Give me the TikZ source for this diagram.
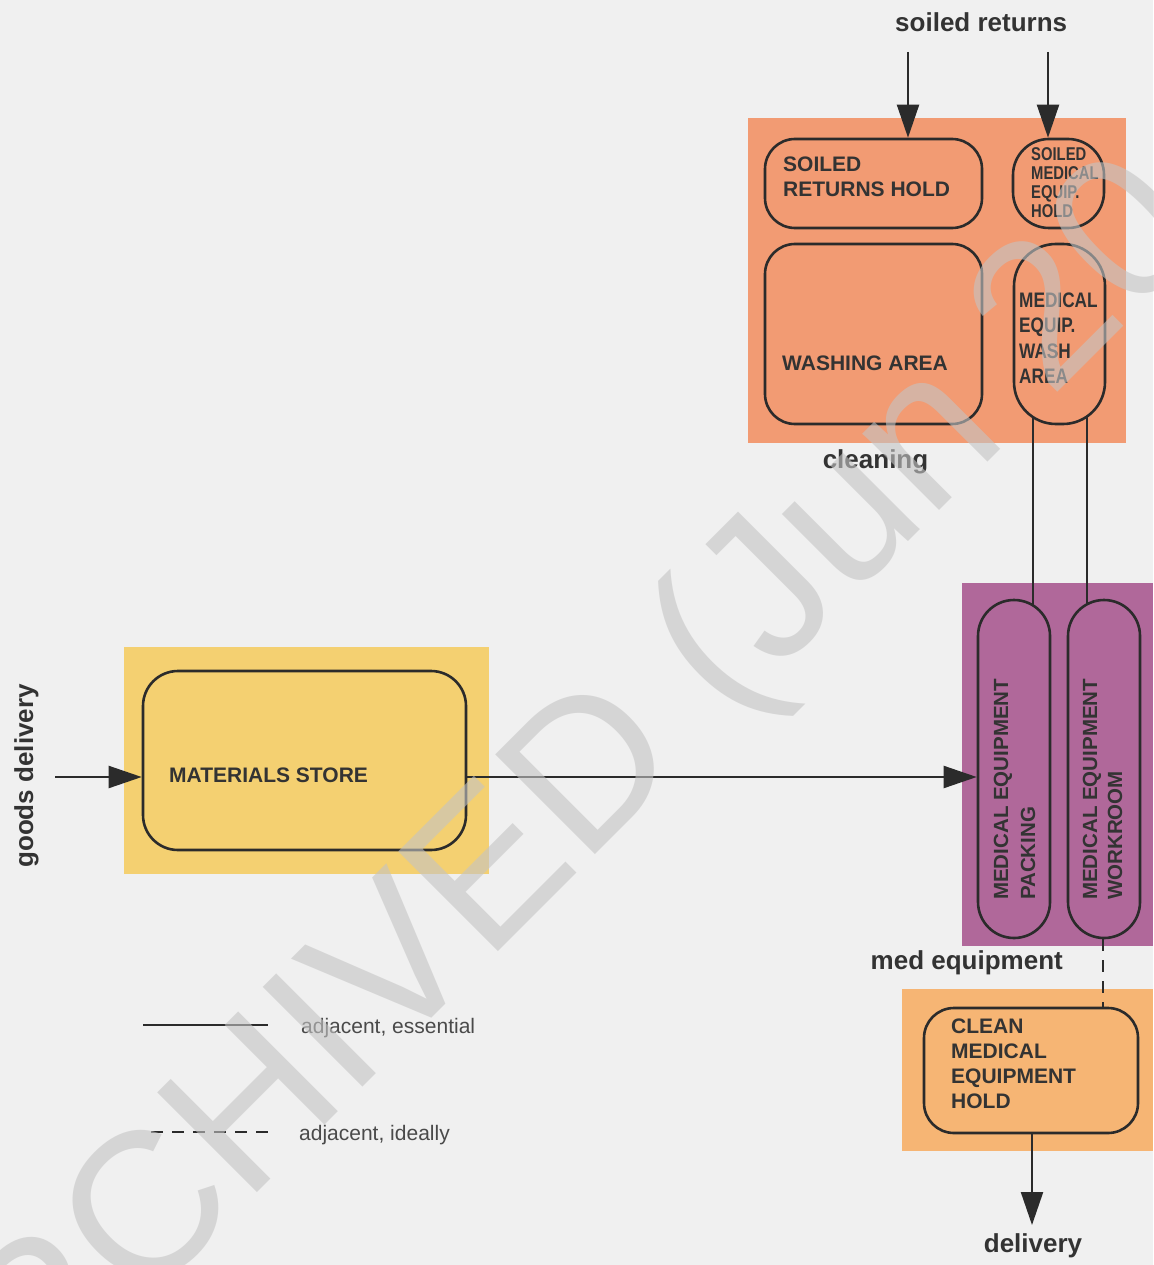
\documentclass[tikz,border=0pt]{standalone}
\usepackage{fontspec}
\setmainfont{Liberation Sans}
\usepackage{graphicx}
\usetikzlibrary{arrows.meta}

\definecolor{paper}{HTML}{F0F0F0}
\definecolor{cleanbg}{HTML}{F29B73}
\definecolor{medbg}{HTML}{B0689A}
\definecolor{storebg}{HTML}{F4D071}
\definecolor{holdbg}{HTML}{F6B574}
\definecolor{linec}{HTML}{2B2B2B}
\definecolor{txtc}{HTML}{333333}
\definecolor{keytxt}{HTML}{4A4A4A}
\definecolor{wmark}{HTML}{C4C4C4}

\pgfdeclarelayer{under}
\pgfsetlayers{under,main}

\begin{document}
\begin{tikzpicture}[x=1pt,y=-1pt,
  room/.style={draw=linec, line width=2.6pt, rectangle, inner sep=0pt, rounded corners=#1},
  room/.default=30pt,
  link/.style={draw=linec, line width=2.2pt},
  flow/.style={link, -{Triangle[length=33pt,width=22pt]}},
  ideal/.style={link, dash pattern=on 12pt off 9pt},
  lab/.style={text=txtc, inner sep=0pt, anchor=base west, font=\bfseries\fontsize{21}{25}\selectfont},
  labs/.style={text=txtc, inner sep=0pt, anchor=base west, font=\bfseries\fontsize{18.5}{20}\selectfont},
  vlab/.style={text=txtc, inner sep=0pt, anchor=base west, rotate=90, font=\bfseries\fontsize{20.5}{25}\selectfont},
  zone/.style={text=txtc, inner sep=0pt, font=\bfseries\fontsize{26}{30}\selectfont},
  keylab/.style={text=keytxt, inner sep=0pt, anchor=base west, font=\fontsize{21}{25}\selectfont}
]
\useasboundingbox (0,0) rectangle (1153,1265);

% room outlines
\node[room, fill=cleanbg, minimum width=217pt, minimum height=89pt]  (srh)  at (873.5,183.5) {};
\node[room=36pt, fill=cleanbg, minimum width=91pt, minimum height=89pt] (smeh) at (1058.5,183.5) {};
\node[room, fill=cleanbg, minimum width=217pt, minimum height=180pt] (wash) at (873.5,334) {};
\node[room=42pt, fill=cleanbg, minimum width=91pt, minimum height=180pt] (mewa) at (1059.5,334) {};
\node[room=36pt, fill=medbg, minimum width=72pt, minimum height=338pt] (pack) at (1014,769) {};
\node[room=36pt, fill=medbg, minimum width=72pt, minimum height=338pt] (work) at (1104,769) {};
\node[room=35pt, fill=storebg, minimum width=323pt, minimum height=179pt] (ms) at (304.5,760.5) {};
\node[room, fill=holdbg, minimum width=214pt, minimum height=125pt] (cmeh) at (1031,1070.5) {};

\begin{pgfonlayer}{under}
  % sheet and department backgrounds
  \fill[paper] (0,0) rectangle (1153,1265);
  \fill[cleanbg] (748,118) rectangle (1126,443);
  \fill[medbg]   (962,583) rectangle (1153,946);
  \fill[storebg] (124,647) rectangle (489,874);
  \fill[holdbg]  (902,989) rectangle (1153,1151);

  % essential links, wash area to packing and workroom
  \draw[link] ([xshift=-26.5pt]mewa.center) -- ([xshift=19pt]pack.center);
  \draw[link] ([xshift=27.5pt]mewa.center) -- ([xshift=-17pt]work.center);

  % incoming and outgoing flows
  \coordinate (sr1) at (908,52);
  \coordinate (sr2) at (1048,52);
  \coordinate (gd) at (55,777);
  \coordinate (dl) at (1032,1225);
  \draw[flow] (sr1) -- (srh.north -| sr1);
  \draw[flow] (sr2) -- (smeh.north -| sr2);
  \draw[flow] (gd) -- (gd -| ms.west);
  \draw[flow] ([yshift=-16.5pt]ms.east) -- ([yshift=-16.5pt]ms.east -| pack.west);
  \draw[ideal] ([xshift=-1pt]work.south) -- ([xshift=-1pt]work.south |- cmeh.north);
  \draw[flow] ([xshift=1pt]cmeh.south) -- ([xshift=1pt]cmeh.south |- dl);
\end{pgfonlayer}

% room names
\foreach \t [count=\i] in {SOILED,RETURNS HOLD}
  \node[lab] (srh-\i) at (783,{172+25*(\i-1)}) {\t};
\foreach \t [count=\i] in {SOILED,MEDICAL,EQUIP.,HOLD}
  \node[labs] (smeh-\i) at (1031,{161+18.7*(\i-1)}) {\scalebox{0.8}[1]{\t}};
\node[lab] (wash-1) at (782,370) {WASHING AREA};
\foreach \t [count=\i] in {MEDICAL,EQUIP.,WASH,AREA}
  \node[lab] (mewa-\i) at (1019,{307.5+25.3*(\i-1)}) {\scalebox{0.82}[1]{\t}};
\node[vlab] (pack-1) at (1008,900) {MEDICAL EQUIPMENT};
\node[vlab] (pack-2) at (1035,900) {PACKING};
\node[vlab] (work-1) at (1097,900) {MEDICAL EQUIPMENT};
\node[vlab] (work-2) at (1122,900) {WORKROOM};
\node[lab] (ms-1) at (169,782) {MATERIALS STORE};
\foreach \t [count=\i] in {CLEAN,MEDICAL,EQUIPMENT,HOLD}
  \node[lab] (cmeh-\i) at (951,{1033+25*(\i-1)}) {\t};

% department and flow names
\node[zone, anchor=base west] (z-sr) at (895,32) {soiled returns};
\node[zone, anchor=base] (z-cl) at (875.5,468) {cleaning};
\node[zone, anchor=base east] (z-me) at (1063,969) {med equipment};
\node[zone, anchor=base] (z-dl) at (1033,1252) {delivery};
\node[zone, anchor=base, rotate=90] (z-gd) at (33,776) {goods delivery};

% key
\coordinate (k1a) at (143,1025);
\coordinate (k1b) at (268,1025);
\coordinate (k2a) at (151,1132);
\coordinate (k2b) at (268,1132);
\draw[link] (k1a) -- (k1b);
\draw[ideal] (k2a) -- (k2b);
\node[keylab] (k1) at (301,1033) {adjacent, essential};
\node[keylab] (k2) at (299,1140) {adjacent, ideally};

% archive stamp across the sheet
\begin{scope}
  \clip (0,0) rectangle (1153,1265);
  \node[anchor=base west, rotate=45, inner sep=0pt, text=wmark, text opacity=0.6,
        font=\fontsize{205}{240}\selectfont] (stamp) at (-61,1511) {ARCHIVED (Jun 20};
\end{scope}
\end{tikzpicture}
\end{document}
